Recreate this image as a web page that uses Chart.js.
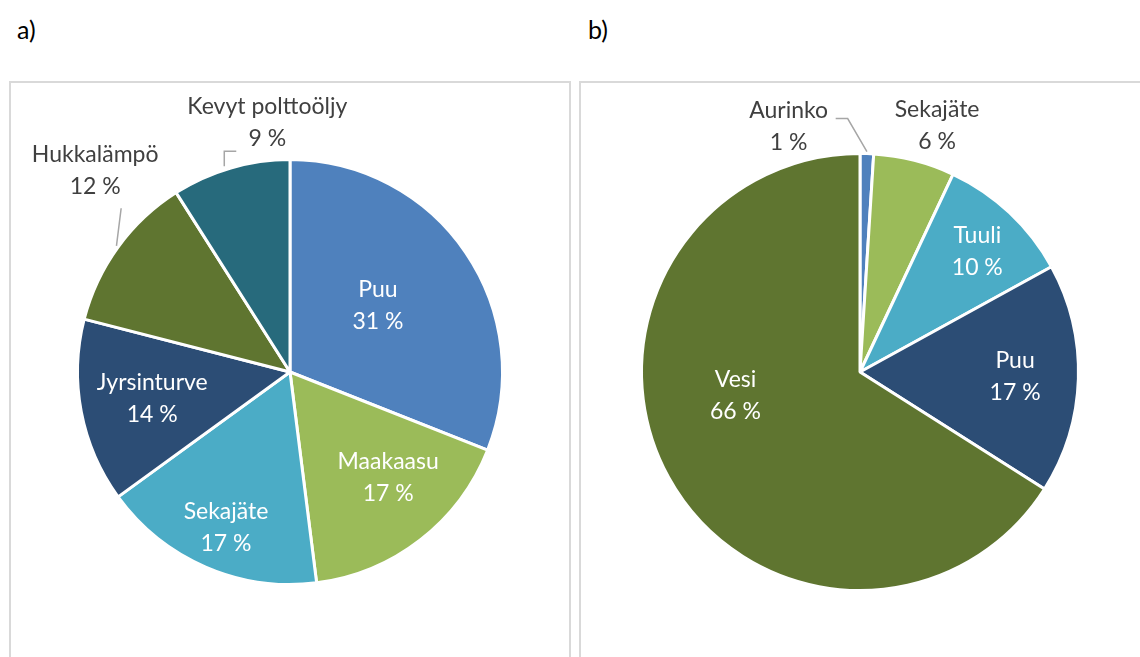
<!DOCTYPE html>
<html>
<head>
<meta charset="utf-8">
<script src="https://cdn.jsdelivr.net/npm/chart.js@4.4.1/dist/chart.umd.min.js"></script>
<style>
  html, body { margin: 0; padding: 0; background: #fff; }
  body { width: 1140px; height: 657px; position: relative; overflow: hidden; font-family: Lato, "Open Sans", sans-serif; }
  .tag { position: absolute; top: 14px; font-size: 25px; color: #000; }
  .frame { position: absolute; top: 81px; height: 640px; border: 2px solid #d9d9d9; box-sizing: border-box; }
  .box { position: absolute; top: 82px; width: 560px; height: 575px; }
</style>
</head>
<body>
<div class="tag" style="left:17px;">a)</div>
<div class="tag" style="left:588px;">b)</div>
<div class="frame" style="left:9px; width:562px;"></div>
<div class="frame" style="left:579px; width:580px;"></div>
<div class="box" style="left:10px;"><canvas id="pieA"></canvas></div>
<div class="box" style="left:580px;"><canvas id="pieB"></canvas></div>
<script>
// a) district heat fuels
const labelsA = ['Puu', 'Maakaasu', 'Sekajäte', 'Jyrsinturve', 'Hukkalämpö', 'Kevyt polttoöljy'];
const valuesA = [31, 17, 17, 14, 12, 9];
// b) electricity sources
const labelsB = ['Aurinko', 'Sekajäte', 'Tuuli', 'Puu', 'Vesi'];
const valuesB = [1, 6, 10, 17, 66];

const colorsA = ['#4f81bd', '#9bbb59', '#4bacc6', '#2c4d75', '#5f7530', '#276a7c'];
const colorsB = ['#4f81bd', '#9bbb59', '#4bacc6', '#2c4d75', '#5f7530'];

// label placement: [radius fraction, angle shift in degrees, inside?]
const placeA = [[0.52, -3, true], [0.68, -5, true], [0.79, -1, true], [0.66, 0, true], [1.32, 10, false], [1.18, 11, false]];
const placeB = [[1.17, -18, false], [1.18, 3, false], [0.77, 1, true], [0.71, 0, true], [0.58, 18, true]];

// leader lines: offsets from label centre, then whether to finish at the pie edge
const leadersA = { 4: { pts: [[26, 38]], edge: true }, 5: { pts: [[-31, 29], [-43, 29], [-43, 44]], edge: false } };
const leadersB = { 0: { pts: [[47, -8], [59, -8]], edge: true } };

const labelPlugin = {
    id: 'sliceLabels',
    afterDatasetsDraw(chart, args, opts) {
        const ctx = chart.ctx;
        const meta = chart.getDatasetMeta(0);
        const values = chart.data.datasets[0].data;
        ctx.save();
        ctx.font = '23px Lato, "Open Sans", sans-serif';
        ctx.textAlign = 'center';
        ctx.textBaseline = 'middle';
        meta.data.forEach(function (arc, i) {
            const p = arc.getProps(['x', 'y', 'startAngle', 'endAngle', 'outerRadius'], true);
            const pl = opts.place[i];
            const mid = (p.startAngle + p.endAngle) / 2;
            const a = mid + pl[1] * Math.PI / 180;
            const lx = p.x + Math.cos(a) * p.outerRadius * pl[0];
            const ly = p.y + Math.sin(a) * p.outerRadius * pl[0];
            const ld = opts.leaders[i];
            if (ld) {
                ctx.strokeStyle = '#a6a6a6';
                ctx.lineWidth = 1.5;
                ctx.beginPath();
                ld.pts.forEach(function (o, k) {
                    if (k === 0) ctx.moveTo(lx + o[0], ly + o[1]);
                    else ctx.lineTo(lx + o[0], ly + o[1]);
                });
                if (ld.edge) {
                    ctx.lineTo(p.x + Math.cos(mid) * (p.outerRadius + 2), p.y + Math.sin(mid) * (p.outerRadius + 2));
                }
                ctx.stroke();
            }
            ctx.fillStyle = pl[2] ? '#ffffff' : '#404040';
            ctx.fillText(chart.data.labels[i], lx, ly - 16);
            ctx.fillText(values[i] + ' %', lx, ly + 16);
        });
        ctx.restore();
    }
};

function makePie(id, labels, values, colors, padding, place, leaders) {
    const el = document.getElementById(id);
    if (!el) {
        console.error('Canvas element not found');
        return;
    }
    new Chart(el.getContext('2d'), {
        type: 'pie',
        data: {
            labels: labels,
            datasets: [{
                data: values,
                backgroundColor: colors,
                borderColor: '#ffffff',
                borderWidth: 3
            }]
        },
        options: {
            responsive: true,
            maintainAspectRatio: false,
            animation: false,
            layout: { padding: padding },
            plugins: {
                legend: { display: false },
                tooltip: { enabled: false },
                sliceLabels: { place: place, leaders: leaders }
            }
        },
        plugins: [labelPlugin]
    });
}

makePie('pieA', labelsA, valuesA, colorsA, { left: 66, right: 66, top: 76, bottom: 71 }, placeA, leadersA);
makePie('pieB', labelsB, valuesB, colorsB, { left: 60, right: 60, top: 70, bottom: 65 }, placeB, leadersB);
</script>
</body>
</html>
